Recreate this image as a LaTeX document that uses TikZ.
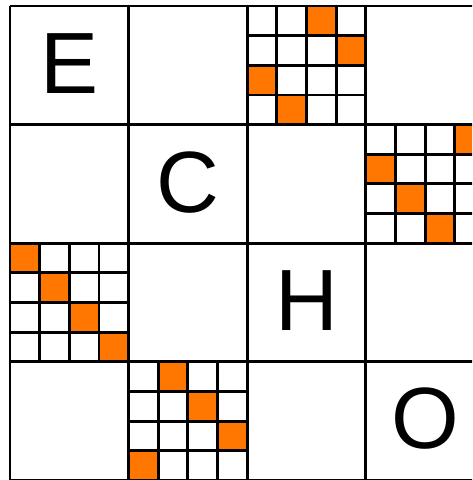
\documentclass[tikz,border=0pt]{standalone}
\usepackage{fontspec}
\setmainfont{Liberation Sans}
\definecolor{echoorange}{RGB}{255,119,0}
\tikzset{
  letter/.style={font=\fontsize{87}{87}\selectfont, inner sep=0pt},
  gridline/.style={line width=2.9pt}
}
\begin{document}
\begin{tikzpicture}[x=1pt,y=-1pt]
\useasboundingbox (0,0) rectangle (472,480);
\clip (0,0) rectangle (472,480);
% orange sub cells, one per row of each block
\foreach \bx/\by/\k in {2/0/2, 3/1/3, 0/2/0, 1/3/1}{
  \foreach \r in {0,...,3}{
    \pgfmathtruncatemacro{\c}{mod(\r+\k,4)}
    \fill[echoorange] (10+118.6*\bx+29.65*\c,6+118.6*\by+29.65*\r) rectangle ++(29.65,29.65);
  }
  \foreach \i in {1,2,3}{
    \draw[gridline] (10+118.6*\bx+29.65*\i,6+118.6*\by) -- ++(0,118.6);
    \draw[gridline] (10+118.6*\bx,6+118.6*\by+29.65*\i) -- ++(118.6,0);
  }
}
% big grid
\foreach \i in {0,...,4}{
  \draw[gridline] (10+118.6*\i,6) -- (10+118.6*\i,481);
  \draw[gridline] (10,6+118.6*\i) -- (485,6+118.6*\i);
}
\node[letter] (E) at (69.3,63.8) {E};
\node[letter] (C) at (187.9,182.4) {C};
\node[letter] (H) at (306.5,301) {H};
\node[letter] (O) at (425.1,418.6) {O};
\end{tikzpicture}
\end{document}
